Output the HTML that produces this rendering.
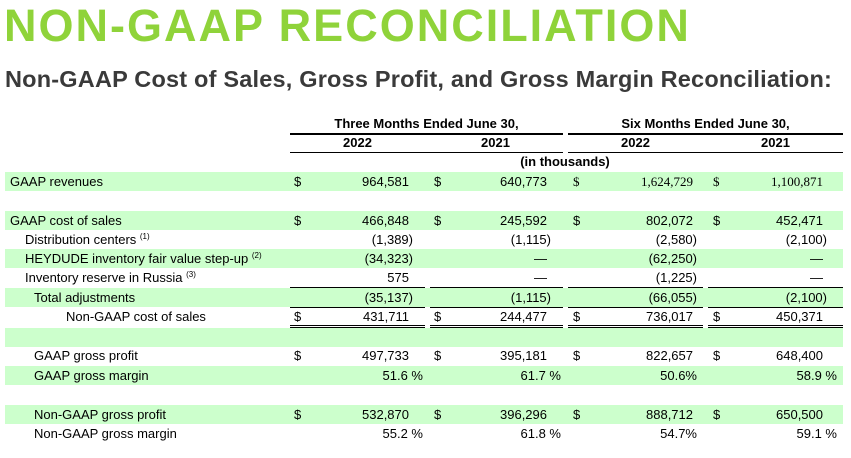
<!DOCTYPE html>
<html><head><meta charset="utf-8">
<style>
body{margin:0;width:851px;height:458px;background:#fff;position:relative;overflow:hidden;font-family:"Liberation Sans",Arial,sans-serif;color:#000}
.t{position:absolute;white-space:nowrap;font-size:13px;line-height:19px}
.b{font-weight:bold}
.band{position:absolute;left:5px;width:838px;height:19px;background:#ccffcc}
.ln{position:absolute;height:1px;background:#000}
.r{text-align:right}
sup{font-size:8px;vertical-align:5px;line-height:0}
.serif{font-family:"Liberation Serif",serif}
</style></head><body>
<div class="t b" style="left:4px;top:-2px;font-size:45px;line-height:56px;color:#8fd33a;letter-spacing:2px">NON-GAAP RECONCILIATION</div>
<div class="t b" style="left:5px;top:64px;font-size:23.5px;line-height:30px;color:#3a3a3a;letter-spacing:0.2px">Non-GAAP Cost of Sales, Gross Profit, and Gross Margin Reconciliation:</div>

<div class="band" style="top:172px"></div>
<div class="band" style="top:211px"></div>
<div class="band" style="top:249px"></div>
<div class="band" style="top:288px"></div>
<div class="band" style="top:328px"></div>
<div class="band" style="top:366px"></div>
<div class="band" style="top:405px"></div>

<div class="t b" style="left:290px;width:273px;text-align:center;top:114px">Three Months Ended June 30,</div>
<div class="t b" style="left:568px;width:275px;text-align:center;top:114px">Six Months Ended June 30,</div>
<div class="ln" style="left:290px;width:273px;top:133px;height:2px"></div>
<div class="ln" style="left:568px;width:275px;top:133px;height:2px"></div>
<div class="t b" style="left:290px;width:135px;text-align:center;top:133px">2022</div>
<div class="t b" style="left:428px;width:135px;text-align:center;top:133px">2021</div>
<div class="t b" style="left:568px;width:135px;text-align:center;top:133px">2022</div>
<div class="t b" style="left:708px;width:135px;text-align:center;top:133px">2021</div>
<div class="ln" style="left:290px;width:273px;top:152px"></div>
<div class="ln" style="left:568px;width:275px;top:152px"></div>
<div class="t b" style="left:465px;width:200px;text-align:center;top:152px">(in thousands)</div>

<div id="rows"></div>

<div class="ln" style="left:290px;width:135px;top:287px"></div>
<div class="ln" style="left:430px;width:133px;top:287px"></div>
<div class="ln" style="left:568px;width:135px;top:287px"></div>
<div class="ln" style="left:708px;width:135px;top:287px"></div>
<div class="ln" style="left:290px;width:135px;top:307px"></div>
<div class="ln" style="left:430px;width:133px;top:307px"></div>
<div class="ln" style="left:568px;width:135px;top:307px"></div>
<div class="ln" style="left:708px;width:135px;top:307px"></div>
<div class="ln" style="left:290px;width:135px;top:325px"></div>
<div class="ln" style="left:430px;width:133px;top:325px"></div>
<div class="ln" style="left:568px;width:135px;top:325px"></div>
<div class="ln" style="left:708px;width:135px;top:325px"></div>
<div class="ln" style="left:290px;width:135px;top:327px"></div>
<div class="ln" style="left:430px;width:133px;top:327px"></div>
<div class="ln" style="left:568px;width:135px;top:327px"></div>
<div class="ln" style="left:708px;width:135px;top:327px"></div>

<script>
const rowLabels=["GAAP revenues","GAAP cost of sales","Distribution centers <sup>(1)</sup>","HEYDUDE inventory fair value step-up <sup>(2)</sup>","Inventory reserve in Russia <sup>(3)</sup>","Total adjustments","Non-GAAP cost of sales","GAAP gross profit","GAAP gross margin","Non-GAAP gross profit","Non-GAAP gross margin"];
const rowTops=[172,211,230,249,268,288,307,346,366,405,424];
const rowIndent=[10,10,25,25,25,34,66,34,34,34,34];
const q2022=["964,581","466,848","(1,389)","(34,323)","575","(35,137)","431,711","497,733","51.6 %","532,870","55.2 %"];
const q2021=["640,773","245,592","(1,115)","—","—","(1,115)","244,477","395,181","61.7 %","396,296","61.8 %"];
const h2022=["1,624,729","802,072","(2,580)","(62,250)","(1,225)","(66,055)","736,017","822,657","50.6%","888,712","54.7%"];
const h2021=["1,100,871","452,471","(2,100)","—","—","(2,100)","450,371","648,400","58.9 %","650,500","59.1 %"];
const dollarRows=[0,1,6,7,9];
const cols=[{v:q2022,d:294,r:409,n:'q2022'},{v:q2021,d:434,r:547,n:'q2021'},{v:h2022,d:573,r:693,n:'h2022'},{v:h2021,d:713,r:823,n:'h2021'}];
const host=document.getElementById('rows');
rowLabels.forEach((lab,i)=>{
  const l=document.createElement('div');
  l.className='t';l.style.left=rowIndent[i]+'px';l.style.top=rowTops[i]+'px';l.innerHTML=lab;
  
  
  host.appendChild(l);
  cols.forEach((c,ci)=>{
    const serif=(i===0&&ci>=2)?' serif':'';
    if(dollarRows.includes(i)){
      const d=document.createElement('div');
      d.className='t'+serif;d.style.left=c.d+'px';d.style.top=rowTops[i]+'px';d.textContent='$';
      
      
      host.appendChild(d);
    }
    const val=c.v[i];
    let right=c.r;
    if(val.endsWith(')'))right+=4;
    if(val.includes('%'))right+=(val.includes(' %')?14:4);
    const e=document.createElement('div');
    e.className='t r'+serif;e.style.right=(851-right)+'px';e.style.top=rowTops[i]+'px';e.textContent=val;
    
    
    host.appendChild(e);
  });
});
</script>
</body></html>
